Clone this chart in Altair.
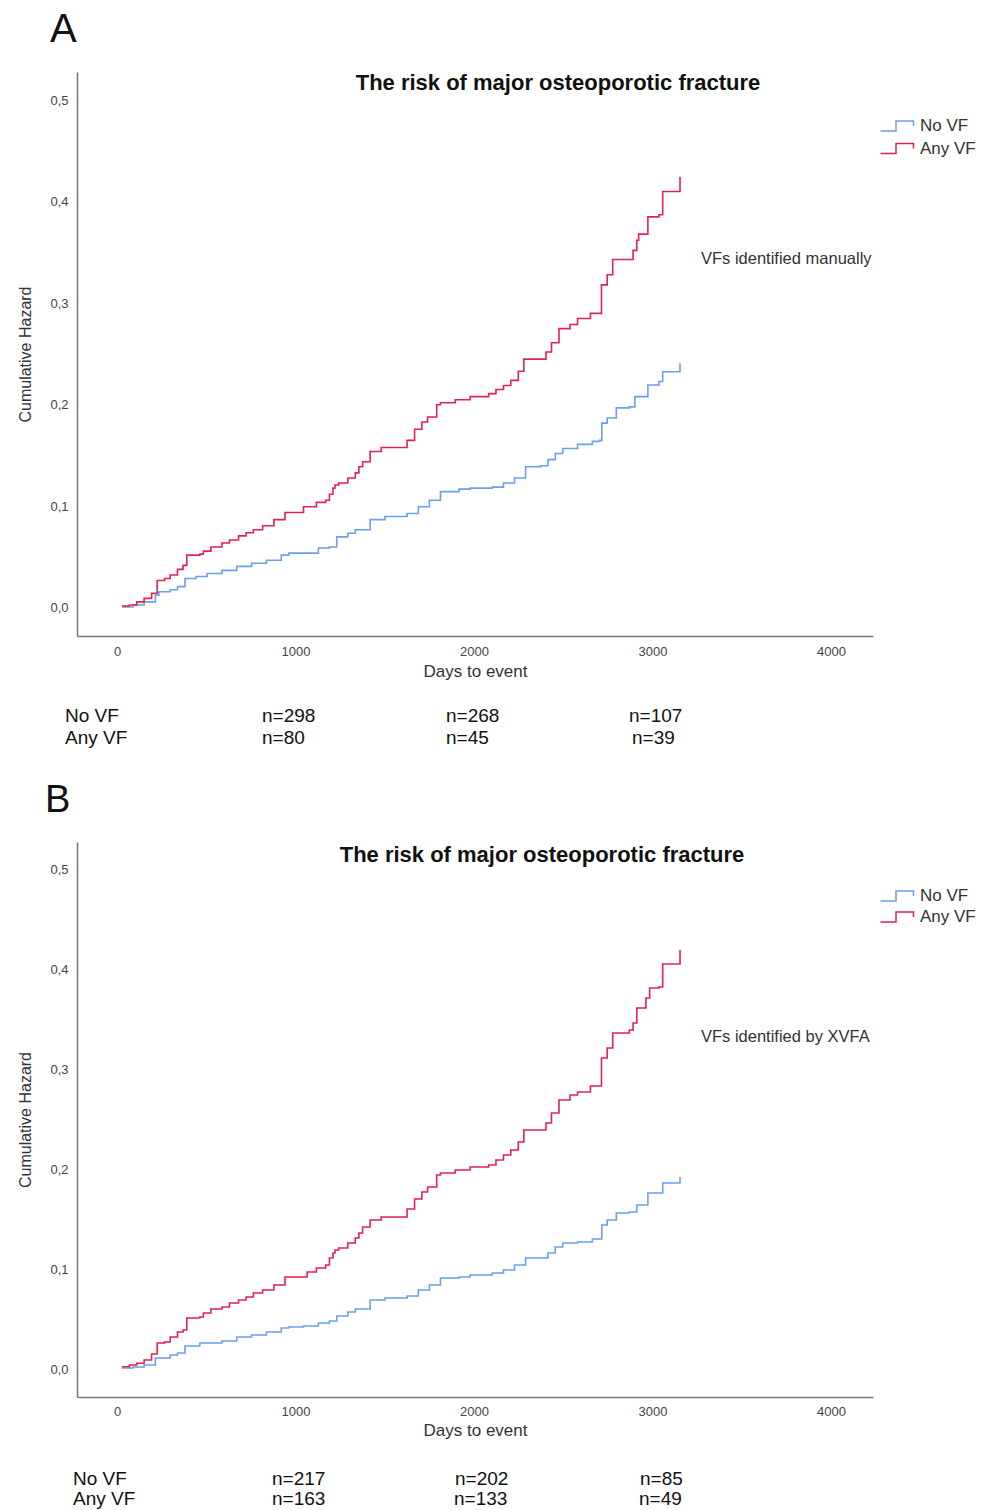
import altair as alt
import pandas as pd

FONT = "Liberation Sans"
GROUPS = ["No VF", "Any VF"]
COLORS = ["#6b9ff0", "#e1234d"]
X_TICKS = [0, 1000, 2000, 3000, 4000]
Y_TICKS = [0.0, 0.1, 0.2, 0.3, 0.4, 0.5]
TITLE = "The risk of major osteoporotic fracture"
X_TITLE = "Days to event"
Y_TITLE = "Cumulative Hazard"

# ---------------- Panel A (VFs identified manually) ----------------
a_novf_days = [28, 90, 152, 215, 235, 298, 339, 381, 443, 505, 588, 671, 754, 837, 920, 962, 1128, 1190, 1231, 1293,
               1335, 1418, 1501, 1625, 1688, 1750, 1812, 1916, 1978, 2102, 2165, 2227, 2289, 2372, 2414, 2455, 2497,
               2580, 2663, 2704, 2716, 2746, 2797, 2870, 2901, 2974, 3036, 3057, 3154]
a_novf_haz = [0.001, 0.003, 0.006, 0.0125, 0.016, 0.018, 0.021, 0.029, 0.031, 0.034, 0.037, 0.041, 0.044, 0.047,
              0.052, 0.054, 0.059, 0.060, 0.070, 0.0735, 0.077, 0.087, 0.090, 0.093, 0.0997, 0.106, 0.1145, 0.117,
              0.118, 0.119, 0.123, 0.128, 0.139, 0.140, 0.146, 0.152, 0.157, 0.161, 0.164, 0.165, 0.182, 0.187,
              0.197, 0.198, 0.208, 0.2195, 0.223, 0.2326, 0.241]
a_anyvf_days = [28, 69, 111, 152, 194, 225, 267, 298, 339, 370, 391, 464, 484, 526, 588, 630, 681, 723, 764, 816,
                879, 941, 1045, 1117, 1169, 1190, 1210, 1221, 1242, 1293, 1335, 1355, 1376, 1418, 1480, 1625, 1667,
                1708, 1740, 1791, 1812, 1895, 1978, 2082, 2123, 2165, 2206, 2248, 2279, 2403, 2434, 2476, 2538, 2580,
                2652, 2714, 2746, 2777, 2891, 2912, 2922, 2974, 3036, 3057, 3154]
a_anyvf_haz = [0.002, 0.003, 0.006, 0.0095, 0.0144, 0.027, 0.029, 0.0325, 0.038, 0.042, 0.052, 0.053, 0.056, 0.060,
               0.064, 0.067, 0.071, 0.074, 0.077, 0.081, 0.087, 0.094, 0.0997, 0.104, 0.106, 0.112, 0.118, 0.121,
               0.123, 0.128, 0.133, 0.139, 0.144, 0.154, 0.158, 0.165, 0.176, 0.183, 0.188, 0.200, 0.202, 0.205,
               0.208, 0.211, 0.215, 0.219, 0.224, 0.233, 0.245, 0.252, 0.261, 0.275, 0.279, 0.285, 0.290, 0.318,
               0.328, 0.343, 0.352, 0.362, 0.368, 0.385, 0.387, 0.410, 0.4245]
a_note = "VFs identified manually"
a_risk_novf = ["n=298", "n=268", "n=107"]
a_risk_anyvf = ["n=80", "n=45", "n=39"]

# ---------------- Panel B (VFs identified by XVFA) ----------------
b_novf_days = [28, 90, 152, 215, 298, 339, 381, 464, 588, 671, 754, 837, 920, 962, 1045, 1128, 1190, 1231, 1293, 1335,
               1418, 1501, 1625, 1688, 1750, 1812, 1916, 1978, 2102, 2165, 2227, 2289, 2414, 2455, 2497, 2580, 2663,
               2716, 2746, 2797, 2870, 2912, 2974, 3057, 3154]
b_novf_haz = [0.001, 0.002, 0.004, 0.011, 0.014, 0.016, 0.023, 0.026, 0.028, 0.032, 0.034, 0.037, 0.041, 0.042,
              0.043, 0.046, 0.048, 0.053, 0.057, 0.060, 0.069, 0.071, 0.073, 0.079, 0.084, 0.091, 0.092, 0.094,
              0.096, 0.099, 0.104, 0.111, 0.116, 0.122, 0.126, 0.127, 0.130, 0.144, 0.149, 0.156, 0.157, 0.164,
              0.176, 0.186, 0.192]
b_anyvf_days = [28, 69, 111, 152, 194, 225, 267, 298, 339, 370, 391, 464, 484, 526, 588, 630, 681, 723, 764, 816,
                879, 941, 1065, 1117, 1169, 1190, 1210, 1221, 1242, 1293, 1335, 1355, 1376, 1418, 1480, 1625, 1667,
                1708, 1740, 1791, 1812, 1895, 1978, 2082, 2123, 2165, 2206, 2248, 2279, 2403, 2434, 2476, 2538, 2580,
                2652, 2714, 2746, 2777, 2870, 2891, 2912, 2963, 2984, 3036, 3057, 3154]
b_anyvf_haz = [0.0023, 0.004, 0.0057, 0.009, 0.015, 0.026, 0.027, 0.032, 0.037, 0.039, 0.051, 0.052, 0.056, 0.060,
               0.062, 0.066, 0.069, 0.072, 0.076, 0.079, 0.084, 0.092, 0.097, 0.101, 0.104, 0.111, 0.116, 0.119,
               0.121, 0.126, 0.131, 0.136, 0.142, 0.149, 0.152, 0.160, 0.170, 0.177, 0.182, 0.194, 0.196, 0.199,
               0.202, 0.204, 0.209, 0.214, 0.219, 0.227, 0.239, 0.246, 0.256, 0.269, 0.274, 0.277, 0.283, 0.311,
               0.321, 0.336, 0.339, 0.346, 0.361, 0.371, 0.381, 0.382, 0.405, 0.419]
b_note = "VFs identified by XVFA"
b_risk_novf = ["n=217", "n=202", "n=85"]
b_risk_anyvf = ["n=163", "n=133", "n=49"]

# step-shaped legend glyph (wider than the unit box so rows stay compact)
STEP_PATH = "M-1.65,0.5H-0.1V-0.5H1.65V0"


def curves_df(nd, nh, ad, ah):
    rows = [{"days": d, "haz": h, "group": "No VF"} for d, h in zip(nd, nh)]
    rows += [{"days": d, "haz": h, "group": "Any VF"} for d, h in zip(ad, ah)]
    return pd.DataFrame(rows)


def txt(s, x, y, size, weight="normal", align="left", baseline="middle", color="#222"):
    return alt.Chart(alt.InlineData(values=[{"k": 0}])).mark_text(
        font=FONT, fontSize=size, fontWeight=weight, align=align, baseline=baseline, color=color
    ).encode(x=alt.value(x), y=alt.value(y), text=alt.value(s))


def panel(df, p):
    curves = alt.Chart(df).mark_line(interpolate="step-after", strokeWidth=1.6).encode(
        x=alt.X("days:Q",
                scale=alt.Scale(domain=[-224, 4235], nice=False, zero=False),
                axis=alt.Axis(values=X_TICKS, format="d", title=X_TITLE, labelPadding=p["xlabpad"],
                              titlePadding=p["xtitlepad"], ticks=False, tickSize=0, grid=False)),
        y=alt.Y("haz:Q",
                scale=alt.Scale(domain=p["ydom"], nice=False, zero=False),
                axis=alt.Axis(values=Y_TICKS, labelExpr="replace(format(datum.value, '.1f'), '.', ',')",
                              title=Y_TITLE, titlePadding=16, labelPadding=9, ticks=False, tickSize=0,
                              grid=False)),
        color=alt.Color("group:N", scale=alt.Scale(domain=GROUPS, range=COLORS),
                        legend=alt.Legend(title=None, orient="none", legendX=809, legendY=p["legy"],
                                          symbolType=STEP_PATH, symbolSize=400, symbolStrokeWidth=1.5,
                                          symbolFillColor="transparent", labelFont=FONT, labelFontSize=17,
                                          labelColor="#333", labelOffset=12, rowPadding=p["legrow"], padding=0)),
        detail="group:N",
    )
    layers = [curves]
    layers.append(txt(p["letter"], p["letter_x"], -30, p["letter_size"], baseline="alphabetic", color="#111"))
    layers.append(txt(TITLE, p["title_x"], p["title_y"], 22, weight="bold", align="center", color="#111"))
    layers.append(txt(p["note"], 624, p["note_y"], 16.5, color="#333"))
    layers.append(txt("No VF", p["risk_lx"], p["risk_y"][0], 19, color="#111"))
    layers.append(txt("Any VF", p["risk_lx"], p["risk_y"][1], 19, color="#111"))
    for i, (s1, s2) in enumerate(zip(p["risk1"], p["risk2"])):
        layers.append(txt(s1, p["risk_x1"][i], p["risk_y"][0], 19, color="#111"))
        layers.append(txt(s2, p["risk_x2"][i], p["risk_y"][1], 19, color="#111"))
    # invisible layout anchors (page edges)
    for ay, bl in p["anchors"]:
        layers.append(txt(" ", -77, ay, 1, baseline=bl))
    return alt.layer(*layers).properties(width=796, height=p["h"])


pa = panel(curves_df(a_novf_days, a_novf_haz, a_anyvf_days, a_anyvf_haz), {
    "ydom": [-0.02756, 0.52756], "h": 564, "xlabpad": 9, "xtitlepad": 5,
    "legy": 43, "legrow": 3.5,
    "letter": "A", "letter_x": -27, "letter_size": 40,
    "title_x": 481, "title_y": 11, "note": a_note, "note_y": 187,
    "risk_lx": -12, "risk_y": [644, 666], "risk1": a_risk_novf, "risk2": a_risk_anyvf,
    "risk_x1": [185, 369, 552], "risk_x2": [185, 369, 555],
    "anchors": [(-72, "top"), (693, "bottom")],
})

pb = panel(curves_df(b_novf_days, b_novf_haz, b_anyvf_days, b_anyvf_haz), {
    "ydom": [-0.028, 0.527], "h": 555, "xlabpad": 8, "xtitlepad": 4,
    "legy": 43, "legrow": 2,
    "letter": "B", "letter_x": -32, "letter_size": 38,
    "title_x": 465, "title_y": 13, "note": b_note, "note_y": 195,
    "risk_lx": -4, "risk_y": [637, 657], "risk1": b_risk_novf, "risk2": b_risk_anyvf,
    "risk_x1": [195, 378, 563], "risk_x2": [195, 377, 562],
    "anchors": [(-77, "top")],
})

chart = alt.vconcat(pa, pb, spacing=0).resolve_scale(
    color="independent", x="independent", y="independent"
).resolve_legend(color="independent").properties(padding=0).configure_view(stroke=None).configure_axis(
    domainColor="#7a7a7a", domainWidth=1.6, labelColor="#444", labelFont=FONT, labelFontSize=13,
    titleFont=FONT, titleFontSize=17, titleFontWeight="normal", titleColor="#333"
).configure_axisY(titleFontSize=16)

chart.save("out.html", embed_options={"renderer": "svg", "actions": False})
